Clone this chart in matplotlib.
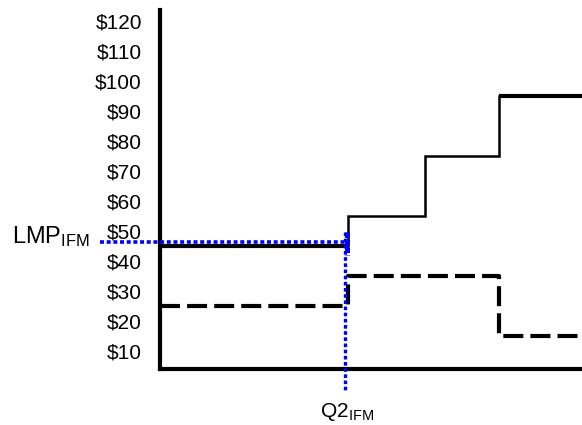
import matplotlib
matplotlib.use("Agg")
import matplotlib.pyplot as plt
from matplotlib.transforms import blended_transform_factory

plt.rcParams['font.family'] = ['Liberation Sans', 'DejaVu Sans']
plt.rcParams['mathtext.fontset'] = 'custom'
plt.rcParams['mathtext.rm'] = 'Liberation Sans'
plt.rcParams['mathtext.it'] = 'Liberation Sans'

# ---- data ----
price_ticks = [10, 20, 30, 40, 50, 60, 70, 80, 90, 100, 110, 120]
price_labels = ["$" + str(v) for v in price_ticks]

supply_breaks = [0, 44.5, 62.8, 80.3, 100]
supply_prices = [45, 55, 75, 95]

demand_breaks = [0, 44.5, 80.3, 100]
demand_prices = [25, 35, 15]

lmp_ifm = 46.3
q2_ifm = 43.8

fig = plt.figure(figsize=(5.82, 4.25), dpi=100)
ax = fig.add_axes([160/582, (425-369)/425, (582-160)/582, (369-10)/425])
ax.set_xlim(0, 100)
ax.set_ylim(4, 123.7)

# supply (solid step)
sx, sy = [], []
for i, p in enumerate(supply_prices):
    sx += [supply_breaks[i], supply_breaks[i+1]]
    sy += [p, p]
ax.plot(sx, sy, color='black', lw=1.8, solid_joinstyle='miter', clip_on=False)
# thick first and last segments
ax.plot(supply_breaks[0:2], [supply_prices[0]]*2, color='black', lw=3, solid_capstyle='butt')
ax.plot(supply_breaks[-2:], [supply_prices[-1]]*2, color='black', lw=3, solid_capstyle='butt')

# demand (dashed step)
dx, dy = [], []
for i, p in enumerate(demand_prices):
    dx += [demand_breaks[i], demand_breaks[i+1]]
    dy += [p, p]
ax.plot(dx, dy, color='black', lw=3, linestyle=(0, (4.8, 1.7)), dash_capstyle='butt')

# LMP / Q2 blue dotted guides
ax.plot([-14.2, supply_breaks[1]], [lmp_ifm, lmp_ifm], color='#0000ff', lw=2.6,
        linestyle=(0, (1.1, 0.75)), clip_on=False, zorder=5)
ax.plot([q2_ifm, q2_ifm], [49.7, -3.7], color='#0000ff', lw=2.4,
        linestyle=(0, (1.1, 0.75)), clip_on=False, zorder=5)
ax.plot([q2_ifm + 0.4, q2_ifm + 0.4], [49.7, 42.0], color='#0000ff', lw=3.6,
        linestyle=(0, (1.1, 0.4)), clip_on=False, zorder=5)

# axes styling
for s in ['top', 'right']:
    ax.spines[s].set_visible(False)
for s in ['left', 'bottom']:
    ax.spines[s].set_linewidth(3)
    ax.spines[s].set_color('black')
ax.set_yticks(price_ticks)
ax.set_yticklabels(price_labels, fontsize=15)
ax.tick_params(axis='y', length=0, pad=13)
ax.set_xticks([])

tr = blended_transform_factory(ax.transAxes, ax.transData)
ax.text(-0.35, lmp_ifm + 1.8, r"LMP$_{\mathrm{IFM}}$", transform=tr, fontsize=17,
        ha='left', va='center')
ax.text(q2_ifm + 0.5, -10.3, r"Q2$_{\mathrm{IFM}}$", fontsize=15, ha='center', va='center')

fig.savefig("out.png", dpi=100)
